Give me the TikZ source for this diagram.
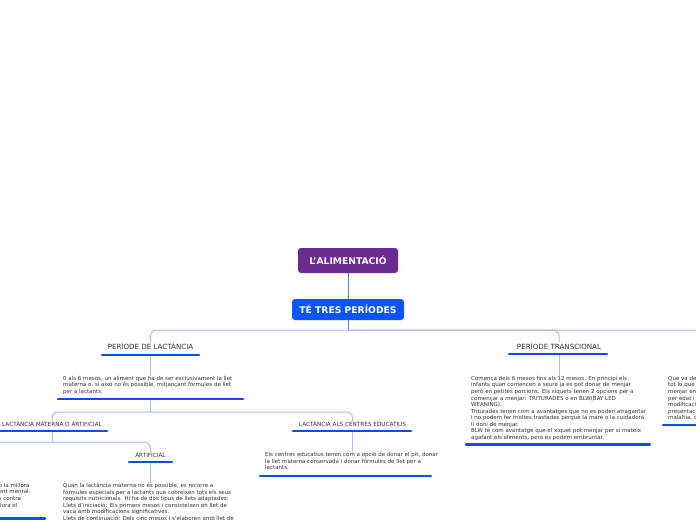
\documentclass[tikz,border=0pt]{standalone}
\usepackage{fontspec}
\setmainfont{DejaVu Sans}
\definecolor{purp}{HTML}{6B2C91}
\definecolor{boxblue}{HTML}{0A55FF}
\definecolor{barblue}{HTML}{0A4EF5}
\definecolor{trunk}{HTML}{4F7BFF}
\definecolor{branch}{HTML}{A9BEFF}
\definecolor{txt}{HTML}{333333}
\begin{document}
\begin{tikzpicture}[x=1pt,y=-1pt,
  topbox/.style={rounded corners=3pt, text=white, inner sep=0pt, font=\bfseries\fontsize{9.2}{10}\selectfont},
  title/.style={font=\fontsize{7.1}{8}\selectfont, text=txt, inner sep=0pt},
  subtitle/.style={font=\fontsize{5.7}{7}\selectfont, text=txt, inner sep=0pt},
  body/.style={font=\fontsize{5.5}{6.55}\selectfont, text=txt, align=left, anchor=north west, inner sep=0pt},
  bar/.style={draw=barblue, line width=2.6pt, line cap=round},
  br/.style={draw=branch, line width=1pt, rounded corners=6pt},
  tr/.style={draw=trunk, line width=1pt}]
\useasboundingbox (0,0) rectangle (696,520);
\clip (0,0) rectangle (696,520);
\fill[white] (0,0) rectangle (696,520);

% top boxes
\node[topbox, fill=purp, minimum width=100pt, minimum height=25pt] (root) at (348,260.5) {L'ALIMENTACIÓ};
\node[topbox, fill=boxblue, minimum width=112pt, minimum height=21pt] (tres) at (348,309.5) {TÉ TRES PERÍODES};
\draw[tr] (root.south) -- (tres.north);

% level 1 titles
\node[title] (lact) at (150.5,346) {PERÍODE DE LACTÀNCIA};
\node[title] (trans) at (559,346) {PERÍODE TRANSCIONAL};
\coordinate (third) at (740,342);
\coordinate (hub) at (348,330);
\draw[tr] (tres.south) -- (hub);
\draw[br] (hub) -| (lact.north);
\draw[br] (hub) -| (trans.north);
\draw[br] (hub) -| (third);

% lactancia
\coordinate (lactbarL) at (102,355); \coordinate (lactbarR) at (199,355);
\draw[bar] (lactbarL) -- (lactbarR);
\node[body] (lbody) at (63,376) {0 als 6 mesos, un aliment que ha de ser exclusivament la llet\\materna o, si això no és possible, mitjançant fórmules de llet\\per a lactants.};
\coordinate (lsrc) at (150,356);
\draw[br] (lsrc) -- (lsrc |- lbody.north);
\coordinate (lbodyL) at (58,399); \coordinate (lbodyR) at (243,399);
\draw[bar] (lbodyL) -- (lbodyR);

% level 2
\node[subtitle] (mat) at (52,424) {LACTÀNCIA MATERNA O ARTIFICIAL};
\node[subtitle] (cent) at (352.5,424) {LACTÀNCIA ALS CENTRES EDUCATIUS};
\coordinate (hub2) at (150,400);
\coordinate (hub2b) at (150,412);
\draw[br] (hub2) -- (hub2b);
\draw[br] (hub2b) -| (mat.north);
\draw[br] (hub2b) -| (cent.north);

\coordinate (matbarL) at (-5,431); \coordinate (matbarR) at (107,431);
\draw[bar] (matbarL) -- (matbarR);

% materna / artificial
\node[subtitle] (art) at (150.5,455) {ARTIFICIAL};
\coordinate (materna) at (-60,452);
\coordinate (hub3) at (52,432);
\coordinate (hub3b) at (52,442);
\draw[br] (hub3) -- (hub3b);
\draw[br] (hub3b) -| (art.north);
\draw[br] (hub3b) -| (materna);

\node[body] (mbody) at (-1.5,483) {b la millora\\ent mental.\\s contra\\llora el\\.};
\coordinate (mbarL) at (-5,518.5); \coordinate (mbarR) at (45,518.5);
\draw[bar] (mbarL) -- (mbarR);

\coordinate (artbarL) at (129,462); \coordinate (artbarR) at (172,462);
\draw[bar] (artbarL) -- (artbarR);
\node[body] (abody) at (63,483) {Quan la lactància materna no és possible, es recorre a\\fórmules especials per a lactants que cobreixen tots els seus\\requisits nutricionals. Hi ha de dos tipus de llets adaptades:\\Llets d'iniciació: Els primers mesos i consisteixen en llet de\\vaca amb modificacions significatives.\\Llets de continuació: Dels cinc mesos i s'elaboren amb llet de};
\coordinate (asrc) at (150,463);
\draw[br] (asrc) -- (asrc |- abody.north);

% centres
\coordinate (cbarL) at (293,431); \coordinate (cbarR) at (411,431);
\draw[bar] (cbarL) -- (cbarR);
\node[body] (cbody) at (265,452) {Els centres educatius tenen com a opció de donar el pit, donar\\la llet materna conservada i donar fórmules de llet per a\\lactants.};
\coordinate (csrc) at (352,432);
\draw[br] (csrc) -- (csrc |- cbody.north);
\coordinate (cbodyL) at (260,476); \coordinate (cbodyR) at (431,476);
\draw[bar] (cbodyL) -- (cbodyR);

% transcional
\coordinate (tbarL) at (509,354); \coordinate (tbarR) at (607,354);
\draw[bar] (tbarL) -- (tbarR);
\node[body] (tbody) at (471,376) {Comença dels 6 mesos fins als 12 mesos. En principi els\\infants quan comencen a seure ja es pot donar de menjar\\però en petites porcions. Els xiquets tenen 2 opcions per a\\començar a menjar: TRITURADES o en BLW(BAY LED\\WEANING).\\Triturades tenen com a avantatges que no es poden atragantar\\i no podem fer moltes trastades perquè la mare o la cuidadora\\li doni de menjar.\\BLW té com avantatge que el xiquet pot menjar per si mateix\\agafant els aliments, però es podem embruntar.};
\coordinate (tsrc) at (559,355);
\draw[br] (tsrc) -- (tsrc |- tbody.north);
\coordinate (tbodyL) at (466,444.5); \coordinate (tbodyR) at (650,444.5);
\draw[bar] (tbodyL) -- (tbodyR);

% third (cut off)
\node[body] (rbody) at (668,376) {Que va de\\tot lo que\\menjar en\\per edat i\\modificaci\\presentaci\\malaltia, c};
\coordinate (rbarL) at (663,425); \coordinate (rbarR) at (720,425);
\draw[bar] (rbarL) -- (rbarR);
\end{tikzpicture}
\end{document}
